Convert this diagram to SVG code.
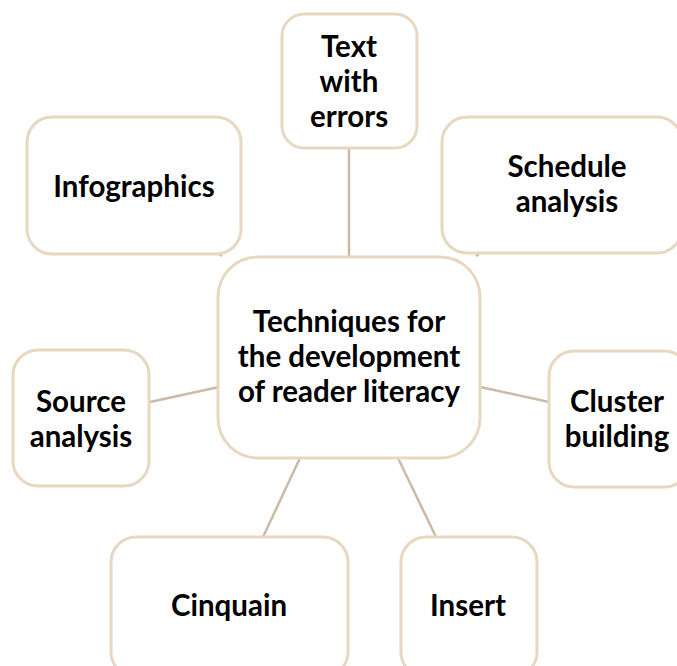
<svg xmlns="http://www.w3.org/2000/svg" width="677" height="666" viewBox="0 0 677 666">
<style>
.box{fill:#ffffff;stroke:#e8d8c2;stroke-width:3}
.con{stroke:#cbbba5;stroke-width:2.5;fill:none}
text{font-family:"Lato","Liberation Sans",sans-serif;font-weight:bold;font-size:29.5px;fill:#000;text-anchor:middle}
</style>
<rect width="677" height="666" fill="#ffffff"/>
<g id="connectors">
<line class="con" x1="349" y1="148" x2="349" y2="257"/>
<line class="con" x1="150" y1="402" x2="219" y2="387"/>
<line class="con" x1="480" y1="387" x2="549" y2="402"/>
<line class="con" x1="300" y1="458" x2="263" y2="537"/>
<line class="con" x1="398" y1="458" x2="436" y2="537"/>
<line class="con" x1="219" y1="254" x2="222" y2="256"/>
<line class="con" x1="476" y1="256" x2="479" y2="254"/>
</g>
<g id="center">
<rect class="box" x="218" y="257" width="262" height="201" rx="40"/>
<text x="349" y="332">Techniques for</text>
<text x="349" y="367">the development</text>
<text x="349" y="402">of reader literacy</text>
</g>
<g id="text-with-errors">
<rect class="box" x="282" y="14" width="135" height="134" rx="22"/>
<text x="349" y="57">Text</text>
<text x="349" y="92">with</text>
<text x="349" y="127">errors</text>
</g>
<g id="infographics">
<rect class="box" x="27" y="117" width="214" height="137" rx="25"/>
<text x="134" y="197">Infographics</text>
</g>
<g id="schedule-analysis">
<rect class="box" x="442" y="117" width="240" height="136" rx="25"/>
<text x="567" y="177">Schedule</text>
<text x="567" y="212">analysis</text>
</g>
<g id="source-analysis">
<rect class="box" x="13" y="350" width="136" height="136" rx="25"/>
<text x="81" y="412">Source</text>
<text x="81" y="447">analysis</text>
</g>
<g id="cluster-building">
<rect class="box" x="549" y="351" width="140" height="136" rx="25"/>
<text x="617" y="412">Cluster</text>
<text x="617" y="447">building</text>
</g>
<g id="cinquain">
<rect class="box" x="111" y="537" width="237" height="140" rx="25"/>
<text x="229" y="616">Cinquain</text>
</g>
<g id="insert">
<rect class="box" x="401" y="537" width="136" height="140" rx="25"/>
<text x="468" y="616">Insert</text>
</g>
</svg>
